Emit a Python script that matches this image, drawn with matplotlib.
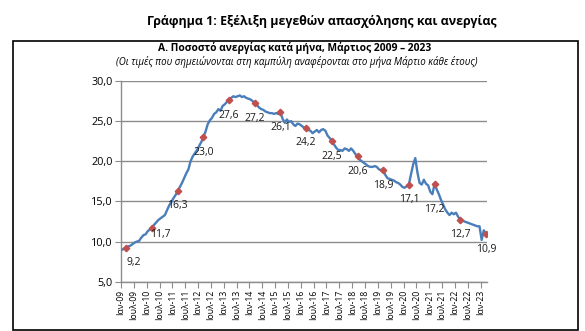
import numpy as np
import matplotlib
matplotlib.use("Agg")
import matplotlib.pyplot as plt
from matplotlib.ticker import FuncFormatter
from matplotlib.patches import Rectangle

plt.rcParams['font.family'] = ['Open Sans', 'DejaVu Sans']

# monthly unemployment rate, Jan 2009 - Mar 2023
y2009 = [9.0, 9.1, 9.2, 9.4, 9.5, 9.7, 9.9, 10.0, 10.1, 10.5, 10.8, 10.9]
y2010 = [11.3, 11.5, 11.7, 12.1, 12.4, 12.7, 12.9, 13.1, 13.3, 13.9, 14.5, 14.9]
y2011 = [15.4, 15.8, 16.3, 16.8, 17.3, 17.9, 18.5, 19.0, 20.0, 20.6, 21.0, 21.4]
y2012 = [21.9, 22.4, 23.0, 23.7, 24.6, 25.1, 25.4, 25.9, 26.1, 26.5, 26.3, 26.9]
y2013 = [27.1, 27.4, 27.6, 27.9, 28.1, 28.0, 28.1, 28.2, 28.0, 28.1, 27.9, 27.8]
y2014 = [27.7, 27.5, 27.2, 27.0, 26.7, 26.5, 26.4, 26.2, 26.1, 26.0, 26.0, 25.9]
y2015 = [26.0, 25.9, 26.1, 25.3, 24.8, 25.2, 24.9, 25.0, 24.6, 24.4, 24.7, 24.6]
y2016 = [24.4, 24.2, 24.2, 23.9, 23.8, 23.5, 23.7, 23.9, 23.6, 23.9, 24.0, 23.8]
y2017 = [23.2, 22.9, 22.5, 22.1, 21.7, 21.4, 21.4, 21.3, 21.6, 21.5, 21.3, 21.6]
y2018 = [21.3, 20.9, 20.6, 20.2, 20.0, 19.8, 19.6, 19.4, 19.3, 19.3, 19.4, 19.3]
y2019 = [19.0, 18.9, 18.9, 18.3, 17.9, 17.8, 17.7, 17.6, 17.4, 17.3, 17.1, 16.8]
y2020 = [16.7, 16.9, 17.1, 18.4, 19.6, 20.4, 18.6, 17.3, 17.1, 17.7, 17.2, 17.0]
y2021 = [16.2, 15.9, 17.2, 16.5, 15.9, 15.2, 14.6, 14.0, 13.6, 13.3, 13.6, 13.4]
y2022 = [13.6, 13.1, 12.7, 12.6, 12.5, 12.4, 12.3, 12.2, 12.1, 12.0, 11.9, 11.9]
y2023 = [10.2, 11.4, 10.9]

values = (y2009 + y2010 + y2011 + y2012 + y2013 + y2014 + y2015 + y2016
          + y2017 + y2018 + y2019 + y2020 + y2021 + y2022 + y2023)

march_values = [9.2, 11.7, 16.3, 23.0, 27.6, 27.2, 26.1, 24.2, 22.5, 20.6,
                18.9, 17.1, 17.2, 12.7, 10.9]

years = list(range(9, 24))
tick_labels = []
for yy in years:
    tick_labels.append('Ιαν-%02d' % yy)
    if yy < 23:
        tick_labels.append('Ιουλ-%02d' % yy)

x = np.arange(len(values))
march_idx = np.arange(2, len(values), 12)

fig = plt.figure(figsize=(5.85, 3.31), dpi=100)
ax = fig.add_axes([121 / 585, 1 - 281.7 / 331, 366 / 585, 200.7 / 331])

grid_col = '#8c8c8c'
ax.plot(x, values, color='#4a7ebb', lw=1.7, zorder=3)
ax.plot(march_idx, march_values, ls='none', marker='D', ms=3.3,
        color='#c0504d', zorder=4)

# label offsets in pixels (dx, dy down)
offs = {0: (7, 15), 1: (8, 7), 12: (0, 26)}
for k, (i, v) in enumerate(zip(march_idx, march_values)):
    dx, dy = offs.get(k, (0, 15))
    ax.annotate(('%.1f' % v).replace('.', ','), (i, v),
                xytext=(dx * 0.72, -dy * 0.72), textcoords='offset points',
                ha='center', va='center', fontsize=7.5, color='#1a1a1a',
                zorder=5)

ax.set_xlim(-0.5, 170.5)
ax.set_ylim(5, 30)
ax.set_yticks(np.arange(5, 31, 5))
ax.yaxis.set_major_formatter(FuncFormatter(lambda v, p: ('%.1f' % v).replace('.', ',')))
ax.set_xticks(np.arange(0, len(values), 6) - 0.5)
ax.set_xticklabels(tick_labels, rotation=90, fontsize=6.2)
ax.tick_params(axis='y', labelsize=7.8, length=4, color=grid_col, pad=2)
ax.tick_params(axis='x', length=4, color=grid_col, pad=2)
ax.grid(axis='y', color=grid_col, lw=1.0)
ax.set_axisbelow(True)
for s in ['top', 'right']:
    ax.spines[s].set_visible(False)
for s in ['left', 'bottom']:
    ax.spines[s].set_color(grid_col)
    ax.spines[s].set_linewidth(1.0)

fig.text(322 / 585, 1 - 22 / 331, 'Γράφημα 1: Εξέλιξη μεγεθών απασχόλησης και ανεργίας',
         ha='center', va='center', fontsize=8.9, fontweight='bold')
fig.text(295 / 585, 1 - 48 / 331, 'Α. Ποσοστό ανεργίας κατά μήνα, Μάρτιος 2009 – 2023',
         ha='center', va='center', fontsize=7.4, fontweight='bold')
fig.text(297 / 585, 1 - 62 / 331,
         '(Οι τιμές που σημειώνονται στη καμπύλη αναφέρονται στο μήνα Μάρτιο κάθε έτους)',
         ha='center', va='center', fontsize=7.0, style='italic')

fig.patches.append(Rectangle((12.5 / 585, 1 / 331), 565.5 / 585, 289.5 / 331,
                             transform=fig.transFigure, fill=False,
                             edgecolor='black', lw=1.2))

fig.savefig('out.png', dpi=100)
